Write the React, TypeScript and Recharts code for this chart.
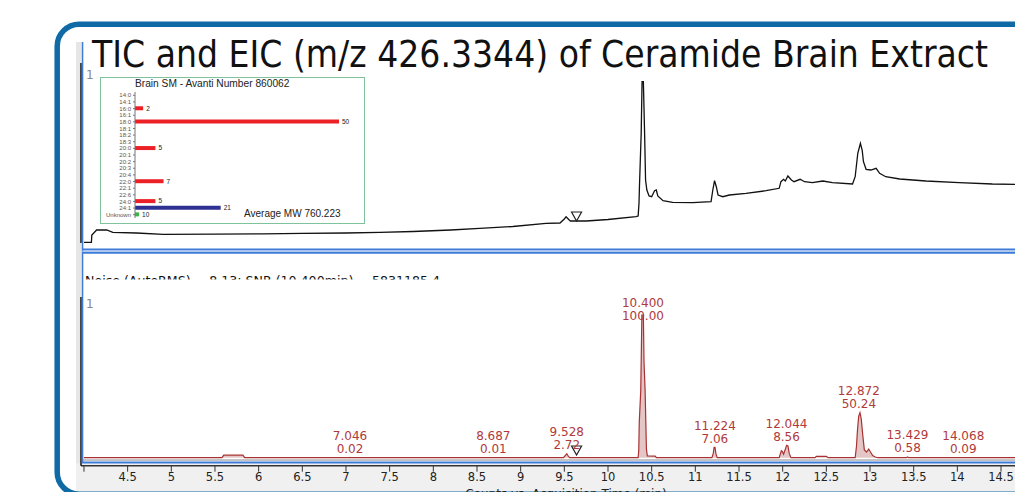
import React from "react";
import {
  LineChart, Line, AreaChart, Area, BarChart, Bar, Cell, LabelList,
  XAxis, YAxis, ReferenceDot,
} from "recharts";

// TIC trace (time in min, counts x1e7 roughly)
const ticTime = [4.0, 4.085, 4.09, 4.145, 4.26, 4.33, 4.6, 4.91, 5.5, 6.05, 6.5, 7.0, 7.39, 7.77, 8.2, 8.53, 8.91, 9.29, 9.45, 9.5, 9.52, 9.55, 9.57, 9.75, 10.0, 10.32, 10.345, 10.355, 10.36, 10.38, 10.39, 10.405, 10.42, 10.43, 10.445, 10.47, 10.5, 10.533, 10.553, 10.57, 10.63, 10.74, 10.97, 11.18, 11.2, 11.22, 11.24, 11.26, 11.315, 11.39, 11.58, 11.81, 11.96, 11.98, 12.01, 12.03, 12.06, 12.1, 12.13, 12.2, 12.25, 12.34, 12.46, 12.57, 12.8, 12.83, 12.86, 12.89, 12.91, 12.925, 12.955, 13.01, 13.07, 13.11, 13.18, 13.34, 13.64, 14.02, 14.4, 14.66];
const ticCounts = [0.005, 0.005, 0.08, 0.13, 0.13, 0.107, 0.1, 0.087, 0.088, 0.092, 0.097, 0.1, 0.107, 0.115, 0.13, 0.147, 0.165, 0.197, 0.2, 0.24, 0.263, 0.235, 0.22, 0.22, 0.235, 0.263, 0.27, 0.4, 0.563, 1.097, 1.613, 1.613, 1.063, 0.63, 0.53, 0.47, 0.463, 0.523, 0.53, 0.47, 0.423, 0.407, 0.403, 0.413, 0.53, 0.623, 0.563, 0.48, 0.463, 0.48, 0.497, 0.523, 0.547, 0.613, 0.637, 0.62, 0.67, 0.63, 0.613, 0.637, 0.613, 0.603, 0.62, 0.603, 0.59, 0.663, 0.897, 0.997, 0.93, 0.813, 0.737, 0.73, 0.747, 0.697, 0.663, 0.64, 0.62, 0.603, 0.59, 0.587];

// EIC m/z 426.3344 (relative abundance, %)
const eicTime = [4.0, 5.58, 5.6, 5.82, 5.84, 7.035, 7.046, 7.057, 8.677, 8.687, 8.697, 9.49, 9.51, 9.528, 9.545, 9.56, 10.345, 10.352, 10.358, 10.375, 10.388, 10.405, 10.412, 10.425, 10.44, 10.45, 10.54, 10.555, 11.19, 11.205, 11.215, 11.225, 11.235, 11.25, 11.96, 11.985, 11.995, 12.01, 12.025, 12.045, 12.06, 12.075, 12.095, 12.37, 12.385, 12.5, 12.52, 12.83, 12.845, 12.855, 12.87, 12.885, 12.9, 12.915, 12.935, 12.96, 12.985, 13.0, 13.03, 13.06, 13.09, 13.415, 13.43, 13.445, 14.058, 14.068, 14.078, 14.66];
const eicAbund = [0, 0, 1.8, 1.8, 0, 0, 0.2, 0, 0, 0.1, 0, 0, 1.5, 2.8, 1.2, 0, 0, 5, 25, 47, 100, 100, 68, 47, 6, 1.3, 1.1, 0, 0, 3, 7.3, 7.3, 3, 0, 0, 4.9, 4.5, 2.5, 5, 8.7, 8.2, 3, 0, 0, 1, 1, 0, 0, 8, 18, 29, 31.5, 27, 17, 5.5, 4, 6, 4.5, 1.5, 0.5, 0, 0, 0.5, 0, 0, 0.1, 0, 0];

// labelled peaks
const peakRt = ["7.046", "8.687", "9.528", "10.400", "11.224", "12.044", "12.872", "13.429", "14.068"];
const peakArea = ["0.02", "0.01", "2.72", "100.00", "7.06", "8.56", "50.24", "0.58", "0.09"];
const peakApex = [0, 0, 2.8, 100, 7.3, 8.7, 31.5, 0.5, 0.1];

const timeTicks = [4, 4.5, 5, 5.5, 6, 6.5, 7, 7.5, 8, 8.5, 9, 9.5, 10, 10.5, 11, 11.5, 12, 12.5, 13, 13.5, 14, 14.5];
const ticTicks = [0, 0.355, 0.715, 1.07, 1.52];
const eicTicks = [4, 23.5, 42.5, 61.5, 81, 100];

// inset: Brain SM fatty acid composition
const insetCats = ["14:0", "14:1", "16:0", "16:1", "18:0", "18:1", "18:2", "18:3", "20:0", "20:1", "20:2", "20:3", "20:4", "22:0", "22:1", "22:6", "24:0", "24:1", "Unknown"];
const insetValues = [0, 0, 2, 0, 50, 0, 0, 0, 5, 0, 0, 0, 0, 7, 0, 0, 5, 21, 1];
const insetLabels = ["", "", "2", "", "50", "", "", "", "5", "", "", "", "", "7", "", "", "5", "21", "10"];

const markerRt = 9.64;

const ticData = ticTime.map((t, i) => ({ t, v: ticCounts[i] }));
const eicData = eicTime.map((t, i) => ({ t, v: eicAbund[i] }));
const insetData = insetCats.map((name, i) => ({ name, value: insetValues[i], label: insetLabels[i] }));

const X_DOMAIN: [number, number] = [3.966, 14.66];
const BLUE = "#3d7bd9";
const RED = "#a83232";
const SANS = "'DejaVu Sans', sans-serif";
const ARIAL = "'Liberation Sans', Arial, sans-serif";

const triangle = (props: any) => {
  const { cx, cy } = props;
  return <polygon points={`${cx - 5},${cy - 9} ${cx + 5},${cy - 9} ${cx},${cy}`} fill="#fff" stroke="#222" strokeWidth={1.2} />;
};

const TimeTick = (props: any) => {
  const { x, y, payload } = props;
  if (payload.value === 4) return <g />;
  return (
    <text x={x} y={y} dy="0.71em" textAnchor="middle" fill="#222" fontSize={11.5} fontFamily={SANS}>
      {payload.value}
    </text>
  );
};

const barColor = (name: string) => (name === "24:1" ? "#2e3192" : name === "Unknown" ? "#3cb44a" : "#ec2127");

export default function App() {
  return (
    <div style={{ position: "fixed", left: 0, top: 0, width: 1015, height: 492, overflow: "hidden", background: "#fff" }}>
      <svg width={1015} height={492} style={{ position: "absolute", left: 0, top: 0 }}>
        <defs>
          <clipPath id="noiseClip"><rect x={80} y={255} width={600} height={24.5} /></clipPath>
        </defs>
        <rect x={76} y={42} width={5} height={450} fill="#e6e6e6" />
        <rect x={76} y={463.5} width={940} height={30} fill="#f0f0f0" />
        <rect x={57.2} y={24.2} width={1100} height={470} rx={22} fill="none" stroke="#0f6aa5" strokeWidth={5.5} />
        <text x={92} y={67} fontSize={38} fontFamily="'Liberation Sans Narrow', 'DejaVu Sans Condensed', sans-serif" fill="#111" textLength={896} lengthAdjust="spacingAndGlyphs">
          TIC and EIC (m/z 426.3344) of Ceramide Brain Extract
        </text>
        <text x={86} y={79} fontSize={12} fontFamily={SANS} fill="#888">1</text>
        <text x={86} y={308} fontSize={12} fontFamily={SANS} fill="#888">1</text>
        <text x={85} y={284.5} fontSize={12} fontFamily={SANS} fill="#111" clipPath="url(#noiseClip)" textLength={355} lengthAdjust="spacingAndGlyphs">
          Noise (AutoRMS) = 8.13; SNR (10.400min) = 5831185.4
        </text>
        <text x={566} y={498} fontSize={12} fontFamily={SANS} fill="#222" textAnchor="middle">
          Counts vs. Acquisition Time (min)
        </text>
      </svg>

      <div style={{ position: "absolute", left: 0, top: 0 }}>
        <LineChart width={1015} height={243} data={ticData} margin={{ top: 63, right: 0, bottom: 0, left: 0 }}>
          <XAxis type="number" dataKey="t" domain={X_DOMAIN} allowDataOverflow hide />
          <YAxis type="number" domain={[0, 1.8]} ticks={ticTicks} width={81} tick={false} tickSize={5} axisLine={{ stroke: "#111", strokeWidth: 1.5 }} tickLine={{ stroke: "#111" }} />
          <Line type="linear" dataKey="v" stroke="#111" strokeWidth={1.3} dot={false} isAnimationActive={false} />
          <ReferenceDot x={markerRt} y={0.22} r={0} shape={triangle} />
        </LineChart>
      </div>

      <div style={{ position: "absolute", left: 0, top: 280 }}>
        <AreaChart width={1015} height={212} data={eicData} margin={{ top: 17, right: 0, bottom: 0, left: 0 }}>
          <XAxis
            type="number" dataKey="t" domain={X_DOMAIN} allowDataOverflow ticks={timeTicks} interval={0}
            height={26.3} tickSize={6} tickMargin={1} tick={<TimeTick />}
            axisLine={{ stroke: "#333", strokeWidth: 1.5 }} tickLine={{ stroke: "#333" }}
          />
          <YAxis type="number" domain={[-5.6, 112.6]} ticks={eicTicks} width={81} tick={false} tickSize={5} axisLine={{ stroke: "#111", strokeWidth: 1.5 }} tickLine={{ stroke: "#111" }} />
          <Area type="linear" dataKey="v" baseValue={0} stroke={RED} strokeWidth={1.2} fill="#e4c6c6" fillOpacity={1} isAnimationActive={false} />
          <ReferenceDot x={markerRt} y={1.9} r={0} shape={triangle} />
          {peakRt.map((rt, i) => (
            <ReferenceDot
              key={rt}
              x={Number(rt)}
              y={Math.min(peakApex[i], 93)}
              r={0}
              shape={(p: any) => (
                <text x={p.cx} y={p.cy} textAnchor="middle" fill="#b03a3a" fontSize={12} fontFamily={SANS}>
                  <tspan x={p.cx} dy={-17.6}>{rt}</tspan>
                  <tspan x={p.cx} dy={13}>{peakArea[i]}</tspan>
                </text>
              )}
            />
          ))}
        </AreaChart>
      </div>

      <svg width={1015} height={492} style={{ position: "absolute", left: 0, top: 0, pointerEvents: "none" }}>
        <line x1={82.5} y1={42} x2={82.5} y2={463} stroke={BLUE} strokeWidth={1.6} />
        <line x1={82} y1={249.5} x2={1015} y2={249.5} stroke={BLUE} strokeWidth={2} />
        <line x1={82} y1={251.2} x2={1015} y2={251.2} stroke="#c8d4ea" strokeWidth={1} />
        <line x1={82} y1={252.8} x2={1015} y2={252.8} stroke={BLUE} strokeWidth={2} />
        <line x1={82} y1={460} x2={1015} y2={460} stroke="#888" strokeWidth={1} />
        <line x1={82} y1={462.5} x2={1015} y2={462.5} stroke={BLUE} strokeWidth={2} />
      </svg>

      <div style={{ position: "absolute", left: 100, top: 77, width: 265, height: 147, boxSizing: "border-box", border: "1.5px solid #7ec39b", background: "#fff" }}>
        <div style={{ position: "absolute", left: 34, top: 0, fontSize: 10.2, lineHeight: "11px", fontFamily: ARIAL, color: "#222", whiteSpace: "nowrap" }}>
          Brain SM - Avanti Number 860062
        </div>
        <BarChart layout="vertical" width={262} height={144} data={insetData} margin={{ top: 14, right: 24, bottom: 4, left: 0 }}>
          <XAxis type="number" domain={[0, 50]} hide />
          <YAxis
            type="category" dataKey="name" width={34} interval={0} tickSize={2}
            tick={{ fontSize: 6, fill: "#555", fontFamily: ARIAL }}
            axisLine={{ stroke: "#777" }} tickLine={{ stroke: "#777" }}
          />
          <Bar dataKey="value" barSize={4} isAnimationActive={false}>
            {insetData.map((d) => (
              <Cell key={d.name} fill={barColor(d.name)} />
            ))}
            <LabelList dataKey="label" position="right" offset={3} style={{ fontSize: 6.5, fill: "#222", fontFamily: ARIAL }} />
          </Bar>
        </BarChart>
        <div style={{ position: "absolute", left: 143, top: 130, fontSize: 10, lineHeight: "11px", fontFamily: ARIAL, color: "#222", whiteSpace: "nowrap" }}>
          Average MW 760.223
        </div>
      </div>
    </div>
  );
}
